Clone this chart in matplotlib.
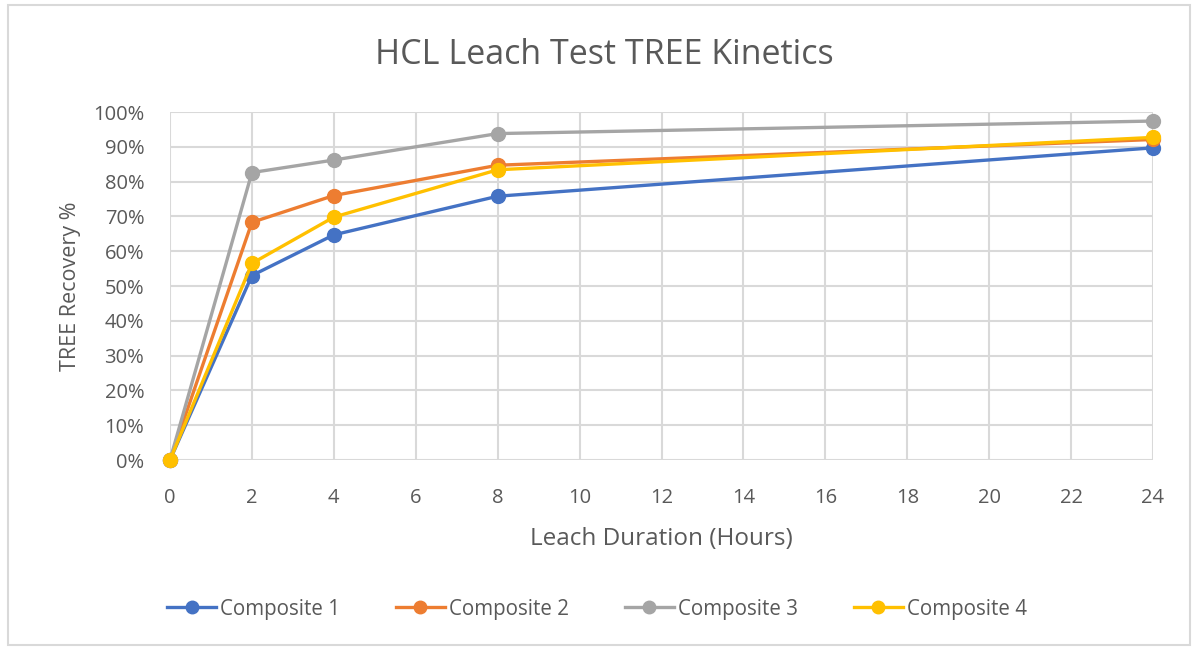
import matplotlib.pyplot as plt
from matplotlib.patches import Rectangle
from matplotlib.ticker import PercentFormatter

hours = [0, 2, 4, 8, 24]
comp1 = [0, 53.0, 64.7, 75.8, 89.7]
comp2 = [0, 68.3, 76.0, 84.7, 92.1]
comp3 = [0, 82.6, 86.2, 93.8, 97.4]
comp4 = [0, 56.5, 69.8, 83.4, 92.7]
names = ["Composite 1", "Composite 2", "Composite 3", "Composite 4"]
colors = ["#4472C4", "#ED7D31", "#A5A5A5", "#FFC000"]

plt.rcParams['font.family'] = ['Open Sans', 'DejaVu Sans']
txt = "#595959"
grid = "#D9D9D9"

fig = plt.figure(figsize=(11.92, 6.48), dpi=100)
fig.patches.append(Rectangle((8 / 1192, 3 / 648), 1182 / 1192, 640 / 648,
                             transform=fig.transFigure, fill=False,
                             edgecolor="#D9D9D9", linewidth=1.5))
ax = fig.add_axes([170 / 1192, 1 - 460 / 648, 983 / 1192, 348 / 648])

for vals, name, c in zip([comp1, comp2, comp3, comp4], names, colors):
    ax.plot(hours, vals, color=c, linewidth=2.4, marker='o', markersize=10,
            label=name, zorder=3, clip_on=False)

ax.set_xlim(0, 24)
ax.set_ylim(0, 100)
ax.set_xticks(range(0, 25, 2))
ax.set_yticks(range(0, 101, 10))
ax.yaxis.set_major_formatter(PercentFormatter(decimals=0))
ax.grid(True, color=grid, linewidth=1.5)
ax.set_axisbelow(True)
for s in ax.spines.values():
    s.set_visible(False)
ax.tick_params(axis='x', length=0, labelsize=14.5, labelcolor=txt, pad=20)
ax.tick_params(axis='y', length=0, labelsize=14.5, labelcolor=txt, pad=18.5)

fig.text(604 / 1192, 1 - 55 / 648, "HCL Leach Test TREE Kinetics",
         fontsize=24.5, color=txt, ha='center', va='center')
ax.set_xlabel("Leach Duration (Hours)", fontsize=17.5, color=txt, labelpad=14)
ax.set_ylabel("TREE Recovery %", fontsize=15.5, color=txt, labelpad=9)

fig.legend(loc='center', bbox_to_anchor=(597 / 1192, 1 - 609 / 648), ncol=4,
           frameon=False, fontsize=14.8, labelcolor=txt, handlelength=2.4,
           handletextpad=0.2, columnspacing=2.7, markerscale=0.9)

plt.savefig("out.png", dpi=100)
